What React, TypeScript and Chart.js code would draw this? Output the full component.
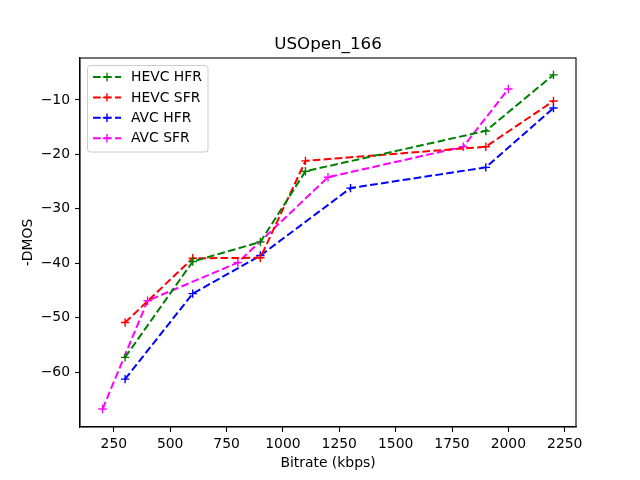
import React, { useEffect, useRef } from "react";
import { Chart, registerables } from "chart.js";
Chart.register(...registerables);

const chartTitle = "USOpen_166";
const xLabel = "Bitrate (kbps)";
const yLabel = "-DMOS";
const xTicks = [250, 500, 750, 1000, 1250, 1500, 1750, 2000, 2250];
const yTicks = [-60, -50, -40, -30, -20, -10];
const xRange = [100, 2300];
const yRange = [-70.1, -2.3];

const seriesNames = ["HEVC HFR", "HEVC SFR", "AVC HFR", "AVC SFR"];
const seriesColors = ["#008000", "#ff0000", "#0000ff", "#ff00ff"];

const hevcHfrX = [300, 600, 900, 1100, 1900, 2200];
const hevcHfrY = [-57.3, -39.7, -36.1, -23.1, -15.7, -5.4];
const hevcSfrX = [300, 600, 900, 1100, 1900, 2200];
const hevcSfrY = [-50.9, -39.1, -39.0, -21.2, -18.6, -10.2];
const avcHfrX = [300, 600, 900, 1300, 1900, 2200];
const avcHfrY = [-61.3, -45.6, -38.6, -26.2, -22.4, -11.5];
const avcSfrX = [200, 400, 800, 1200, 1800, 2000];
const avcSfrY = [-66.8, -46.9, -39.9, -24.2, -18.6, -8.0];

const seriesX = [hevcHfrX, hevcSfrX, avcHfrX, avcSfrX];
const seriesY = [hevcHfrY, hevcSfrY, avcHfrY, avcSfrY];

const FONT = "'DejaVu Sans', sans-serif";
const DASH = [7.7, 3.3];

const framePlugin = {
  id: "frame",
  afterDraw(chart: any) {
    const { ctx, chartArea: a } = chart;
    ctx.save();
    ctx.strokeStyle = "#000";
    ctx.lineWidth = 1.1;
    ctx.strokeRect(a.left, a.top, a.right - a.left, a.bottom - a.top);
    ctx.fillStyle = "#000";
    ctx.font = `16.7px ${FONT}`;
    ctx.textAlign = "center";
    ctx.textBaseline = "middle";
    ctx.fillText(chartTitle, (a.left + a.right) / 2, a.top - 13.5);
    ctx.restore();
  },
};

const legendPlugin = {
  id: "mplLegend",
  afterDraw(chart: any) {
    const { ctx, chartArea: a } = chart;
    const ds = chart.data.datasets;
    const x0 = a.left + 7.5;
    const y0 = a.top + 7.5;
    const w = 120.5;
    const h = 86.5;
    ctx.save();
    ctx.beginPath();
    const r = 3;
    ctx.moveTo(x0 + r, y0);
    ctx.lineTo(x0 + w - r, y0);
    ctx.arcTo(x0 + w, y0, x0 + w, y0 + r, r);
    ctx.lineTo(x0 + w, y0 + h - r);
    ctx.arcTo(x0 + w, y0 + h, x0 + w - r, y0 + h, r);
    ctx.lineTo(x0 + r, y0 + h);
    ctx.arcTo(x0, y0 + h, x0, y0 + h - r, r);
    ctx.lineTo(x0, y0 + r);
    ctx.arcTo(x0, y0, x0 + r, y0, r);
    ctx.closePath();
    ctx.fillStyle = "rgba(255,255,255,0.8)";
    ctx.fill();
    ctx.strokeStyle = "#cccccc";
    ctx.lineWidth = 1;
    ctx.stroke();
    ds.forEach((d: any, i: number) => {
      const yy = y0 + 11.5 + i * 20.4;
      ctx.strokeStyle = d.borderColor;
      ctx.lineWidth = 2;
      ctx.setLineDash(DASH);
      ctx.beginPath();
      ctx.moveTo(x0 + 5.5, yy);
      ctx.lineTo(x0 + 33.5, yy);
      ctx.stroke();
      ctx.setLineDash([]);
      ctx.lineWidth = 1.4;
      const cx = x0 + 19.5;
      ctx.beginPath();
      ctx.moveTo(cx - 4.2, yy);
      ctx.lineTo(cx + 4.2, yy);
      ctx.moveTo(cx, yy - 4.2);
      ctx.lineTo(cx, yy + 4.2);
      ctx.stroke();
      ctx.fillStyle = "#000";
      ctx.font = `13.9px ${FONT}`;
      ctx.textBaseline = "middle";
      ctx.textAlign = "left";
      ctx.fillText(d.label, x0 + 43.5, yy + 0.5);
    });
    ctx.restore();
  },
};

export default function App() {
  const ref = useRef<HTMLCanvasElement>(null);
  useEffect(() => {
    if (!ref.current) return;
    const datasets = seriesNames.map((name, i) => ({
      label: name,
      data: seriesX[i].map((x, j) => ({ x, y: seriesY[i][j] })),
      borderColor: seriesColors[i],
      backgroundColor: seriesColors[i],
      borderWidth: 2,
      borderDash: DASH,
      pointStyle: "cross" as const,
      pointRadius: 4.2,
      pointBorderWidth: 1.4,
      pointBorderColor: seriesColors[i],
      pointHoverRadius: 4.2,
      fill: false,
      tension: 0,
    }));
    const chart = new Chart(ref.current, {
      type: "line",
      data: { datasets },
      plugins: [framePlugin, legendPlugin],
      options: {
        animation: false,
        responsive: true,
        maintainAspectRatio: false,
        devicePixelRatio: 1,
        layout: { padding: { left: 0, right: 64, top: 58, bottom: 0 } },
        plugins: {
          legend: { display: false },
          tooltip: { enabled: false },
          title: { display: false },
        },
        scales: {
          x: {
            type: "linear",
            min: xRange[0],
            max: xRange[1],
            afterBuildTicks: (s: any) => {
              s.ticks = xTicks.map((v) => ({ value: v }));
            },
            afterFit: (s: any) => {
              s.height = 53;
            },
            ticks: {
              color: "#000",
              font: { family: FONT, size: 13.9 },
              padding: 4,
              maxRotation: 0,
              autoSkip: false,
              callback: (v: any) => String(v),
            },
            grid: {
              drawOnChartArea: false,
              drawTicks: true,
              tickLength: 5,
              color: "#000",
              tickWidth: 1.1,
            },
            border: { color: "#000", width: 1.1 },
            title: {
              display: true,
              text: xLabel,
              color: "#000",
              font: { family: FONT, size: 13.9, lineHeight: 1.2 },
              padding: { top: 0, bottom: 8.6 },
            },
          },
          y: {
            type: "linear",
            min: yRange[0],
            max: yRange[1],
            afterBuildTicks: (s: any) => {
              s.ticks = yTicks.map((v) => ({ value: v }));
            },
            afterFit: (s: any) => {
              s.width = 80;
            },
            ticks: {
              color: "#000",
              font: { family: FONT, size: 13.9 },
              padding: 5,
              autoSkip: false,
              callback: (v: any) => String(v).replace("-", "\u2212"),
            },
            grid: {
              drawOnChartArea: false,
              drawTicks: true,
              tickLength: 5,
              color: "#000",
              tickWidth: 1.1,
            },
            border: { color: "#000", width: 1.1 },
            title: {
              display: true,
              text: yLabel,
              color: "#000",
              font: { family: FONT, size: 13.9, lineHeight: 1.2 },
              padding: { top: 19.6, bottom: 0 },
            },
          },
        },
      },
    });
    return () => chart.destroy();
  }, []);
  return (
    <div style={{ position: "absolute", left: 0, top: 0, width: 640, height: 480 }}>
      <canvas ref={ref} />
    </div>
  );
}
